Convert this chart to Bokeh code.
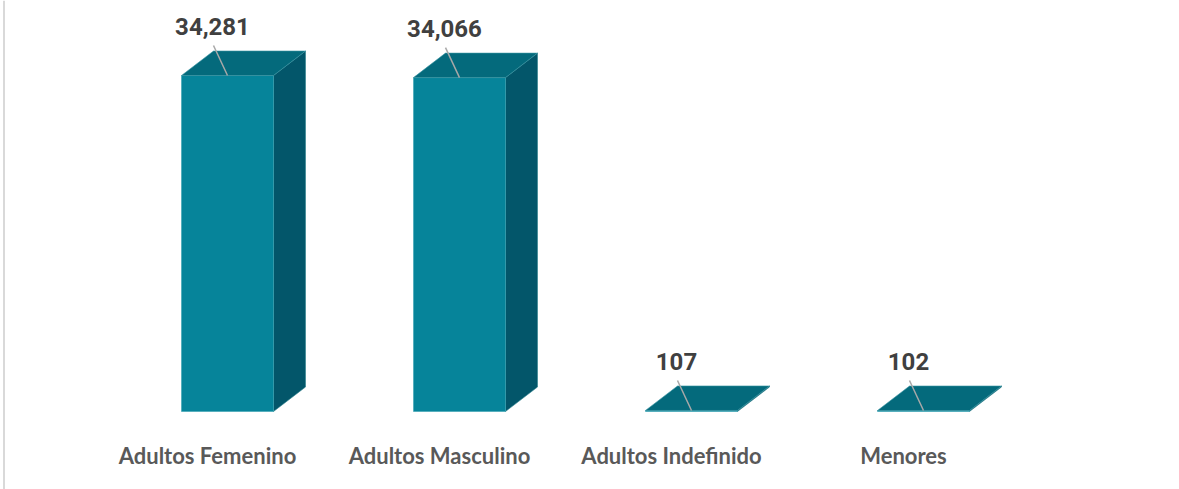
from bokeh.plotting import figure
from bokeh.models import Range1d, Span, ColumnDataSource
from bokeh.core.properties import value
from bokeh.embed import file_html
from bokeh.resources import INLINE

categories = ["Adultos Femenino", "Adultos Masculino", "Adultos Indefinido", "Menores"]
counts = [34281, 34066, 107, 102]
value_labels = ["34,281", "34,066", "107", "102"]

W, H = 1179, 489
px_x = 1 / 232.0            # data units per pixel in x
px_y = 34281 / 336.0        # data units per pixel in y

p = figure(width=W, height=H, output_backend="svg", toolbar_location=None,
           x_range=Range1d(-207 * px_x, (W - 207) * px_x),
           y_range=Range1d(-(H - 411) * px_y, 411 * px_y),
           min_border=0, min_border_left=0, min_border_right=0,
           min_border_top=0, min_border_bottom=0)
p.axis.visible = False
p.grid.visible = False
p.outline_line_color = None
p.background_fill_color = "white"
p.border_fill_color = "white"

a, b = -26 * px_x, 66 * px_x      # front face extent relative to tick
dx, dy = 32 * px_x, 24.5 * px_y   # depth

front_xs, front_ys, top_xs, top_ys, side_xs, side_ys = [], [], [], [], [], []
for i, v in enumerate(counts):
    x0, x1 = i + a, i + b
    front_xs.append([x0, x1, x1, x0]); front_ys.append([0, 0, v, v])
    top_xs.append([x0, x0 + dx, x1 + dx, x1]); top_ys.append([v, v + dy, v + dy, v])
    side_xs.append([x1, x1 + dx, x1 + dx, x1]); side_ys.append([0, dy, v + dy, v])

p.patches(side_xs, side_ys, fill_color="#03566A", line_color="#2a7f8c", line_width=0.6)
p.patches(front_xs, front_ys, fill_color="#06849A", line_color="#3aa3b3", line_width=0.6)
p.patches(top_xs, top_ys, fill_color="#046A7C", line_color="#3a95a3", line_width=0.6)

# leader lines
lx0 = [i + a + 46 * px_x - 14 * px_x for i in range(len(counts))]
ly0 = [v + 30 * px_y for v in counts]
lx1 = [i + a + 46 * px_x for i in range(len(counts))]
ly1 = [v for v in counts]
p.segment(lx0, ly0, lx1, ly1, line_color="#a8a8a8", line_width=1.5)

# value labels
src = ColumnDataSource(dict(x=[i + a + 46 * px_x - 15 * px_x for i in range(len(counts))],
                            y=[v + 49 * px_y for v in counts], t=value_labels))
p.text(x="x", y="y", text="t", source=src, text_align="center", text_baseline="alphabetic",
       text_font=value("Roboto"), text_font_style="bold", text_font_size="24px",
       text_color="#404040")

# category labels
csrc = ColumnDataSource(dict(x=[i for i in range(len(categories))],
                             y=[-44 * px_y] * len(categories), t=categories))
p.text(x="x", y="y", text="t", source=csrc, text_align="center", text_baseline="alphabetic",
       text_font=value("Lato"), text_font_style="bold", text_font_size="22px",
       text_color="#595959")

p.add_layout(Span(location=-203.5 * px_x, dimension="height", line_color="#d9d9d9", line_width=2))

open("out.html", "w").write(file_html(p, INLINE))
